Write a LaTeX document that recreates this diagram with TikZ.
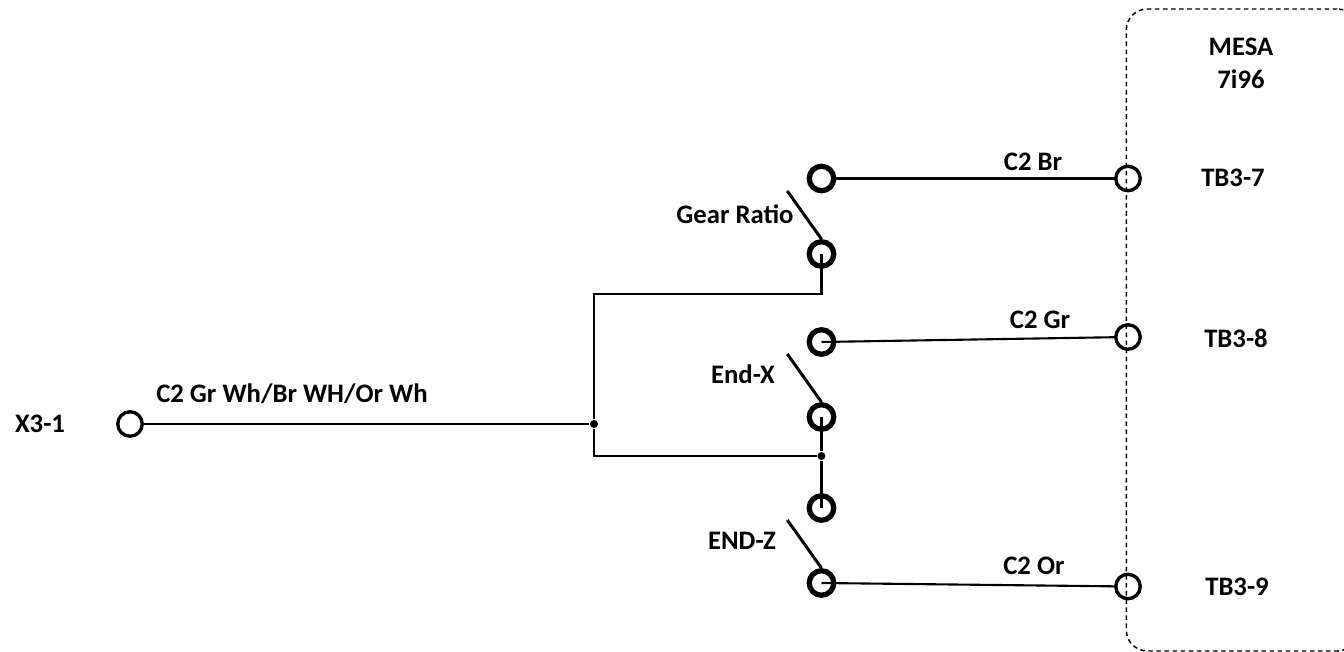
\documentclass[tikz,border=0pt]{standalone}
\usepackage{fontspec}
\setmainfont{Carlito}
\tikzset{
  contact/.style={circle,draw,line width=1.5pt,inner sep=0pt,minimum size=0.245cm},
  terminal/.style={circle,draw,line width=0.95pt,inner sep=0pt,minimum size=0.245cm},
  junction/.style={circle,fill,inner sep=0pt,minimum size=0.08cm},
  wire/.style={line width=0.6pt},
  arm/.style={line width=0.85pt},
  lbl/.style={font=\fontsize{7.6}{9.4}\selectfont\bfseries,inner sep=0pt,align=center}
}
\begin{document}
\begin{tikzpicture}
\useasboundingbox (0,0) rectangle (13.44,6.52);
% board outline
\node (mesa) [draw,dashed,dash pattern=on 1.3pt off 1pt,line width=0.42pt,rounded corners=0.21cm,
	minimum width=2.32cm,minimum height=6.42cm,inner sep=0pt] at (12.423,3.22) {};
% contacts
\node (gearhi) [contact] at (8.215,4.735) {};
\node (gearlo) [contact] at (8.215,3.98) {};
\node (xhi) [contact] at (8.215,3.10) {};
\node (xlo) [contact] at (8.215,2.35) {};
\node (zhi) [contact] at (8.215,1.44) {};
\node (zlo) [contact] at (8.215,0.69) {};
% terminals
\node (xone) [terminal] at (1.30,2.28) {};
\node (tbseven) [terminal] at (11.28,4.735) {};
\node (tbeight) [terminal] at (11.28,3.15) {};
\node (tbnine) [terminal] at (11.28,0.655) {};
% junctions
\node (joinl) [junction] at (5.94,2.28) {};
\node (joinr) [junction] at (8.215,1.96) {};
% switch arms
\coordinate (geartip) at (7.873,4.61);
\coordinate (xtip) at (7.873,2.98);
\coordinate (ztip) at (7.873,1.32);
\draw [arm] (gearlo.north) -- (geartip);
\draw [arm] (xlo.north) -- (xtip);
\draw [arm] (zlo.north) -- (ztip);
% wires
\draw [wire] (xone) -- (joinl);
\draw [wire] (gearlo.center) |- (joinl |- 0,3.58) -- (joinl);
\draw [wire] (joinl) |- (joinr);
\draw [wire] (xlo.center) -- (joinr);
\draw [wire] (joinr) -- (zhi.center);
\draw [wire] (gearhi) -- (tbseven);
\draw [wire] (xhi.center) -- (tbeight);
\draw [wire] (zlo.center) -- (tbnine);
% labels
\node (xonelbl) [lbl] at (0.40,2.28) {X3-1};
\node (mainlbl) [lbl] at (2.92,2.58) {C2 Gr Wh/Br WH/Or Wh};
\node (gearlbl) [lbl] at (7.35,4.38) {Gear Ratio};
\node (xlbl) [lbl] at (7.43,2.78) {End-X};
\node (zlbl) [lbl] at (7.42,1.11) {END-Z};
\node (brlbl) [lbl] at (10.33,4.90) {C2 Br};
\node (grlbl) [lbl] at (10.40,3.32) {C2 Gr};
\node (orlbl) [lbl] at (10.34,0.86) {C2 Or};
\node (mesalbl) [lbl] at (12.41,5.89) {MESA\\7i96};
\node (sevenlbl) [lbl] at (12.33,4.74) {TB3-7};
\node (eightlbl) [lbl] at (12.36,3.14) {TB3-8};
\node (ninelbl) [lbl] at (12.37,0.65) {TB3-9};
\end{tikzpicture}
\end{document}
